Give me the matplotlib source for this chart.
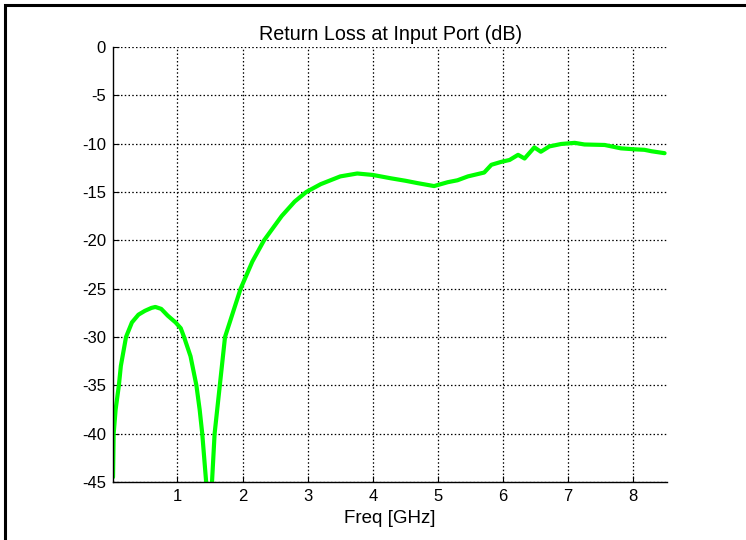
import matplotlib
matplotlib.use("Agg")
import matplotlib.pyplot as plt

plt.rcParams['font.family'] = ['Liberation Sans', 'DejaVu Sans']

freq_ghz = [0.01, 0.02, 0.05, 0.1, 0.13, 0.21, 0.3, 0.4, 0.5, 0.6, 0.66, 0.75,
            0.85, 0.97, 1.05, 1.1, 1.2, 1.29, 1.34, 1.38, 1.44, 1.48, 1.53, 1.57,
            1.65, 1.73, 1.85, 1.97, 2.15, 2.33, 2.6, 2.8, 2.98, 3.2, 3.5, 3.76,
            4.0, 4.28, 4.5, 4.69, 4.94, 5.15, 5.3, 5.46, 5.71, 5.82, 5.97, 6.1,
            6.23, 6.33, 6.48, 6.58, 6.71, 6.89, 7.1, 7.25, 7.56, 7.81, 8.02,
            8.17, 8.28, 8.48]
return_loss_db = [-44.5, -40.0, -37.5, -35.0, -33.0, -30.0, -28.5, -27.7, -27.3,
                  -27.0, -26.9, -27.1, -27.8, -28.5, -29.1, -30.0, -32.0, -35.0,
                  -37.5, -40.0, -45.0, -50.0, -45.0, -40.0, -35.0, -30.0, -27.5,
                  -25.0, -22.2, -20.0, -17.5, -16.0, -15.0, -14.2, -13.4, -13.1,
                  -13.25, -13.6, -13.85, -14.1, -14.4, -14.0, -13.8, -13.4, -13.0,
                  -12.2, -11.9, -11.7, -11.17, -11.55, -10.4, -10.85, -10.3, -10.05,
                  -9.93, -10.1, -10.15, -10.5, -10.6, -10.65, -10.8, -11.0]

x_ticks = [1, 2, 3, 4, 5, 6, 7, 8]
y_ticks = [0, -5, -10, -15, -20, -25, -30, -35, -40, -45]

fig = plt.figure(figsize=(7.462, 5.402), dpi=100)
fig.patch.set_facecolor('white')
# figure frame: only left and top edges are visible in the (cropped) reference
frame_ax = fig.add_axes([0, 0, 1, 1], zorder=-1)
frame_ax.set_xlim(0, 746)
frame_ax.set_ylim(540, 0)
frame_ax.axis('off')
frame_ax.plot([5, 5, 760], [560, 5, 5], color='black', linewidth=2.2,
              solid_joinstyle='miter', clip_on=False)

ax = fig.add_axes([113 / 746, 58 / 540, (667 - 113) / 746, (482 - 47) / 540])
ax.plot(freq_ghz, return_loss_db, color='#00ff00', linewidth=3.0,
        solid_joinstyle='round', solid_capstyle='round')
ax.set_xlim(0.01, 8.52)
ax.set_ylim(-45, 0)
ax.set_xticks(x_ticks)
ax.set_yticks(y_ticks)
ax.set_xticklabels([str(v) for v in x_ticks])
ax.set_yticklabels([str(v) for v in y_ticks])
ax.grid(True, linestyle=(0, (1.2, 1.8)), color='black', linewidth=0.9)
ax.spines['top'].set_visible(False)
ax.spines['right'].set_visible(False)
ax.spines['left'].set_linewidth(1.0)
ax.spines['bottom'].set_linewidth(1.0)
ax.tick_params(direction='in', length=4, labelsize=12, pad=5, colors='black')
ax.set_title('Return Loss at Input Port (dB)', fontsize=14.2, pad=5)
ax.set_xlabel('Freq [GHz]', fontsize=13.5, labelpad=4)
fig.savefig('out.png', dpi=100, facecolor='white')
